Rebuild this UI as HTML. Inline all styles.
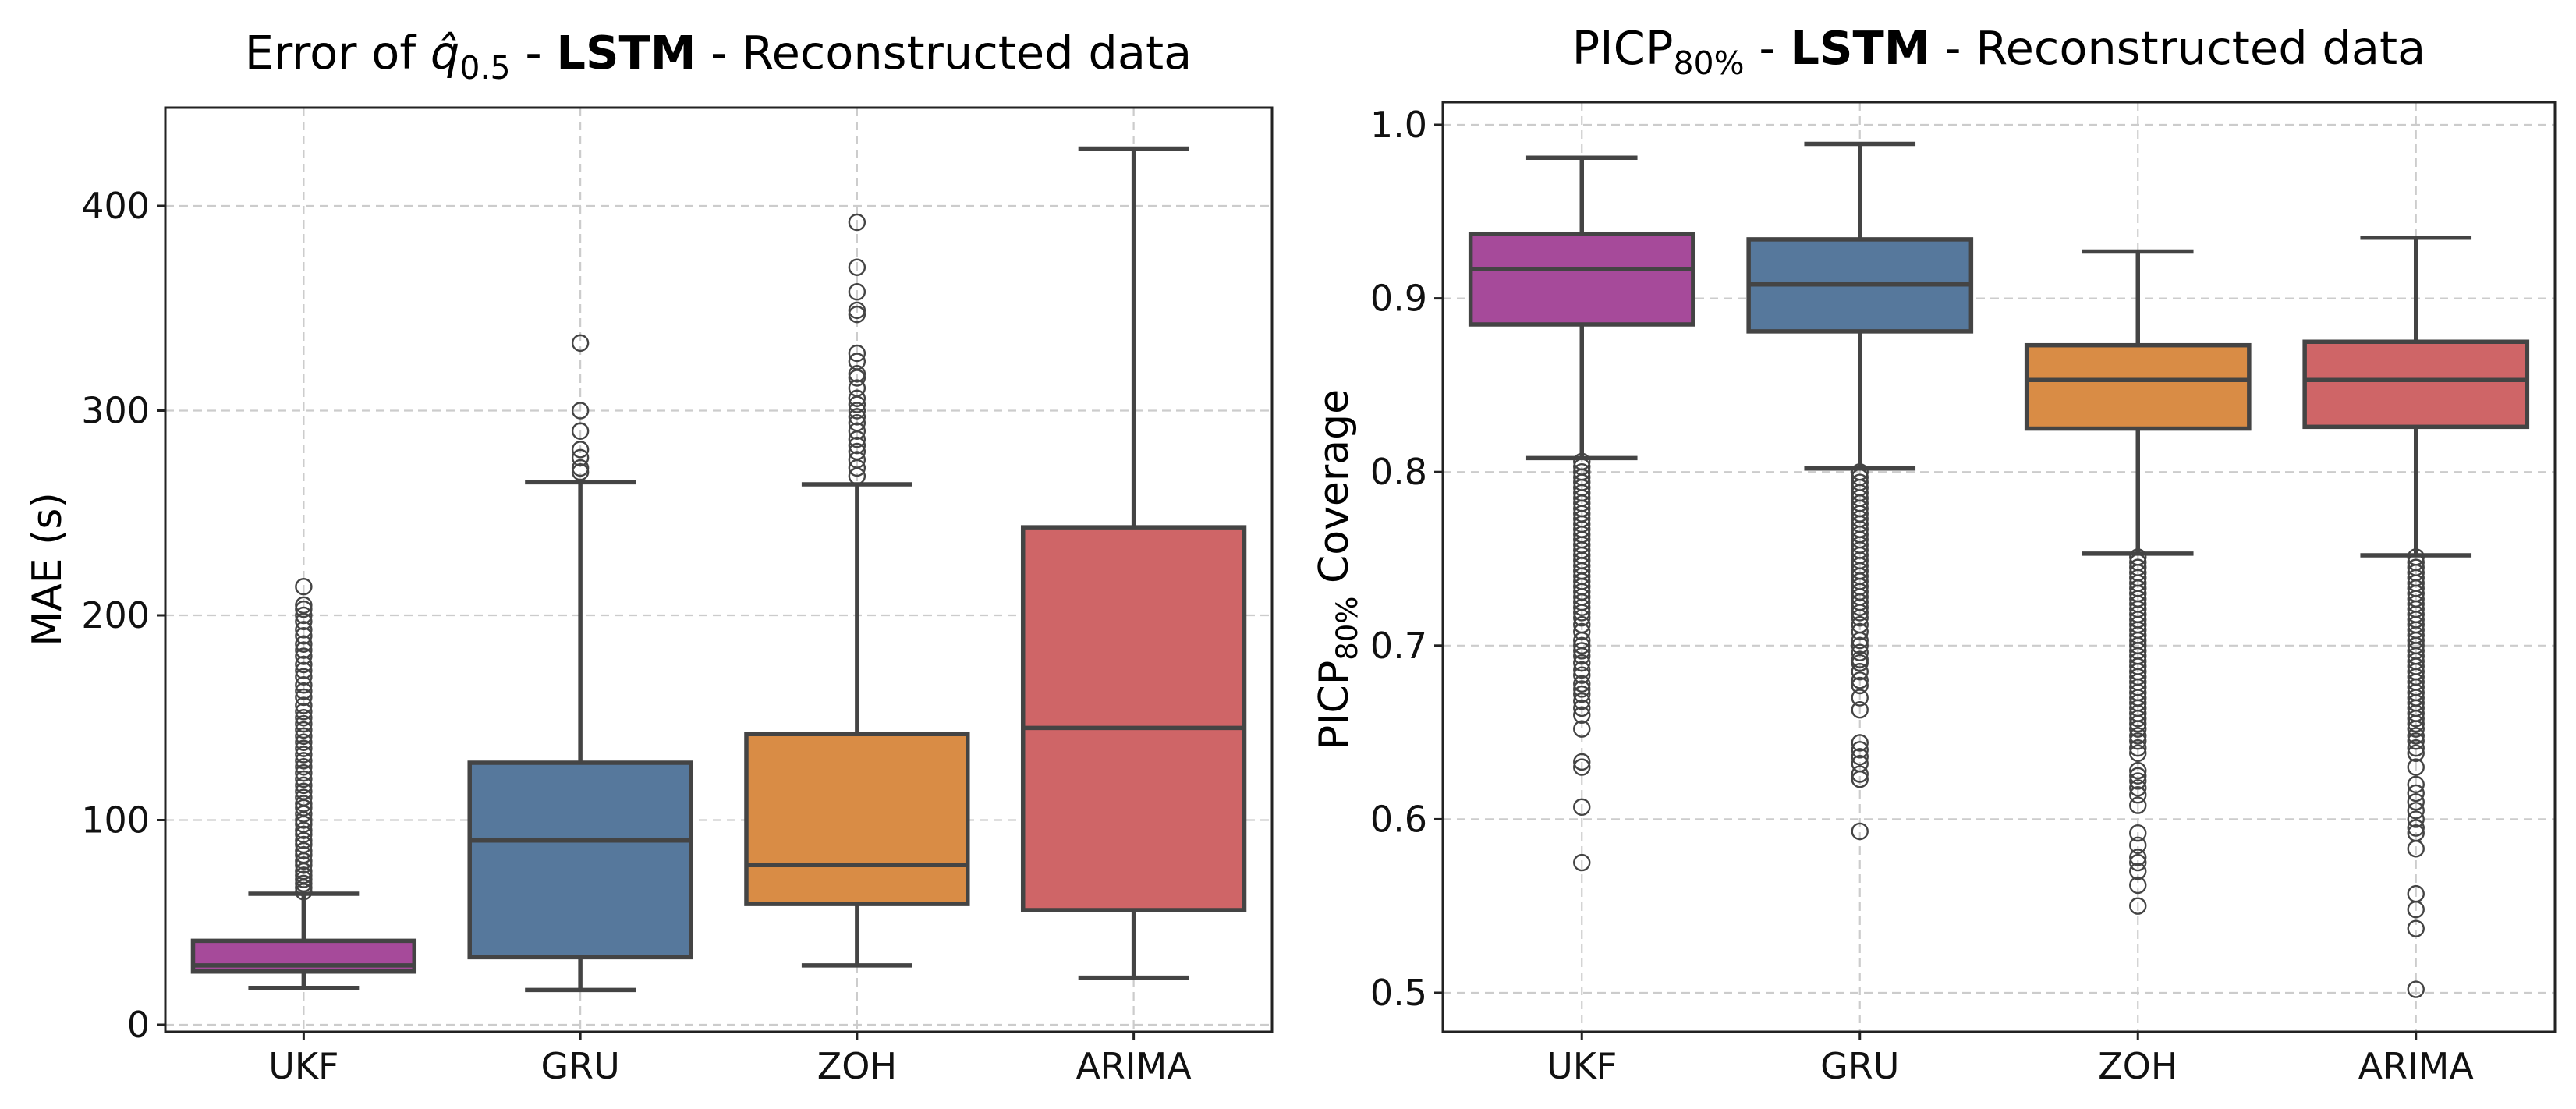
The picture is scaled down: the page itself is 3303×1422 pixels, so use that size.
<!DOCTYPE html>
<html><head><meta charset="utf-8"><style>
html,body{margin:0;padding:0;background:#fff;}
svg{display:block;font-family:"DejaVu Sans","Liberation Sans",sans-serif;}
</style></head><body>
<svg id="fig" width="3303" height="1422" viewBox="0 0 3303 1422" xmlns="http://www.w3.org/2000/svg">
<rect width="3303" height="1422" fill="#fff"/>
<text x="921" y="88" font-size="59" text-anchor="middle" fill="#000">Error of <tspan font-style="italic">q̂</tspan><tspan font-size="41" dy="13">0.5</tspan><tspan dy="-13"> - </tspan><tspan font-weight="bold">LSTM</tspan> - Reconstructed data</text>
<text x="2563" y="82" font-size="59" text-anchor="middle" fill="#000">PICP<tspan font-size="41" dy="13">80%</tspan><tspan dy="-13"> - </tspan><tspan font-weight="bold">LSTM</tspan> - Reconstructed data</text>
<text transform="translate(78,730) rotate(-90)" font-size="52" text-anchor="middle" fill="#000">MAE (s)</text>
<text transform="translate(1728,730) rotate(-90)" font-size="52" text-anchor="middle" fill="#000">PICP<tspan font-size="37" dy="12">80%</tspan><tspan dy="-12"> Coverage</tspan></text>
<g id="left"></g>
<g id="right"></g>
</svg>
<script>
const categories = ["UKF","GRU","ZOH","ARIMA"];
const colors = ["#a64a9a","#56789c","#d98c45","#cf6567"];

// Left chart: MAE (s)
const maeTicks = [0,100,200,300,400];
const maeLow = [18,17,29,23];
const maeQ1 = [26,33,59,56];
const maeMed = [29,90,78,145];
const maeQ3 = [41,128,142,243];
const maeHigh = [64,265,264,428];
const maeOutUKF = [65,67,69,71,73,75,78,80,83,85,88,90,93,95,98,100,103,106,108,111,114,117,120,123,126,129,132,135,138,141,144,147,150,153,156,160,163,166,170,173,176,180,183,186,190,193,197,200,203,205,214];
const maeOutGRU = [270,272,277,281,290,300,333];
const maeOutZOH = [268,272,276,280,283,286,290,294,297,300,303,306,311,316,318,324,328,347,349,358,370,392];
const maeOutARIMA = [];

// Right chart: PICP coverage
const picpTicks = [0.5,0.6,0.7,0.8,0.9,1.0];
const picpLow = [0.808,0.802,0.753,0.752];
const picpQ1 = [0.885,0.881,0.825,0.826];
const picpMed = [0.917,0.908,0.853,0.853];
const picpQ3 = [0.937,0.934,0.873,0.875];
const picpHigh = [0.981,0.989,0.927,0.935];
const picpOutUKF = [0.806,0.803,0.800,0.797,0.794,0.791,0.788,0.785,0.782,0.779,0.776,0.773,0.770,0.767,0.764,0.761,0.758,0.755,0.752,0.749,0.746,0.743,0.740,0.737,0.734,0.731,0.728,0.725,0.722,0.719,0.716,0.712,0.708,0.703,0.700,0.697,0.694,0.690,0.686,0.683,0.678,0.675,0.672,0.668,0.664,0.660,0.652,0.633,0.630,0.607,0.575];
const picpOutGRU = [0.800,0.797,0.794,0.791,0.788,0.785,0.782,0.779,0.776,0.773,0.770,0.767,0.764,0.761,0.758,0.755,0.752,0.749,0.746,0.743,0.740,0.737,0.734,0.731,0.728,0.725,0.722,0.719,0.716,0.712,0.708,0.703,0.700,0.696,0.692,0.690,0.685,0.680,0.677,0.670,0.663,0.644,0.640,0.636,0.632,0.626,0.623,0.593];
const picpOutZOH = [0.751,0.748,0.745,0.742,0.739,0.736,0.733,0.730,0.727,0.724,0.721,0.718,0.715,0.712,0.709,0.706,0.703,0.700,0.697,0.694,0.691,0.688,0.685,0.682,0.679,0.676,0.673,0.670,0.667,0.664,0.661,0.658,0.655,0.652,0.648,0.645,0.641,0.638,0.628,0.625,0.622,0.618,0.614,0.608,0.592,0.585,0.578,0.575,0.570,0.562,0.550];
const picpOutARIMA = [0.751,0.748,0.745,0.742,0.739,0.736,0.733,0.730,0.727,0.724,0.721,0.718,0.715,0.712,0.709,0.706,0.703,0.700,0.697,0.694,0.691,0.688,0.685,0.682,0.679,0.676,0.673,0.670,0.667,0.664,0.661,0.658,0.655,0.652,0.648,0.645,0.641,0.638,0.630,0.620,0.615,0.610,0.605,0.600,0.595,0.592,0.583,0.557,0.548,0.537,0.502];

const NS = "http://www.w3.org/2000/svg";
function mk(parent, tag, attrs){
  const e = document.createElementNS(NS, tag);
  for (const k in attrs) e.setAttribute(k, attrs[k]);
  parent.appendChild(e);
  return e;
}

function drawChart(g, cfg){
  const {x0,x1,y0,y1,vAt0,pxAt0,pxPerUnit,ticks,fmt,low,q1,med,q3,high,outs,prefix} = cfg;
  const yScale = v => pxAt0 - (v - vAt0) * pxPerUnit;
  const band = (x1 - x0) / categories.length;
  const xScale = i => x0 + band * (i + 0.5);
  ticks.forEach(t => {
    const y = yScale(t);
    const gl = mk(g,"line",{x1:x0,x2:x1,y1:y,y2:y,stroke:"#cccccc","stroke-width":2.2,"stroke-dasharray":"11,7"});
    
    
    const tk = mk(g,"line",{x1:x0-11,x2:x0,y1:y,y2:y,stroke:"#222","stroke-width":3});
    
    
    const tl = mk(g,"text",{x:x0-20,y:y+16,"font-size":46,"text-anchor":"end",fill:"#111"});
    tl.textContent = fmt(t);
    
    
  });
  categories.forEach((c,i) => {
    const x = xScale(i);
    const gl = mk(g,"line",{x1:x,x2:x,y1:y0,y2:y1,stroke:"#cccccc","stroke-width":2.2,"stroke-dasharray":"11,7"});
    
    
  });
  categories.forEach((c,i) => {
    const x = xScale(i);
    const bw = band * 0.8;
    const cw = bw * 0.5;
    const grp = mk(g,"g",{});
    
    
    const st = {stroke:"#444","stroke-width":5.5};
    mk(grp,"line",Object.assign({x1:x,x2:x,y1:yScale(high[i]),y2:yScale(q3[i])},st));
    mk(grp,"line",Object.assign({x1:x,x2:x,y1:yScale(q1[i]),y2:yScale(low[i])},st));
    mk(grp,"line",Object.assign({x1:x-cw/2,x2:x+cw/2,y1:yScale(high[i]),y2:yScale(high[i])},st));
    mk(grp,"line",Object.assign({x1:x-cw/2,x2:x+cw/2,y1:yScale(low[i]),y2:yScale(low[i])},st));
    const yt = yScale(q3[i]), yb = yScale(q1[i]);
    mk(grp,"rect",Object.assign({x:x-bw/2,y:yt,width:bw,height:yb-yt,fill:colors[i]},st));
    mk(grp,"line",Object.assign({x1:x-bw/2,x2:x+bw/2,y1:yScale(med[i]),y2:yScale(med[i])},st));
    outs[i].forEach(v => {
      const o = mk(grp,"circle",{cx:x,cy:yScale(v),r:10,fill:"none",stroke:"#444","stroke-width":2.4});
      
      
    });
    const tk = mk(g,"line",{x1:x,x2:x,y1:y1,y2:y1+11,stroke:"#222","stroke-width":3});
    
    
    const tl = mk(g,"text",{x:x,y:y1+60,"font-size":46,"text-anchor":"middle",fill:"#111"});
    tl.textContent = c;
    
    
  });
  const fr = mk(g,"rect",{x:x0,y:y0,width:x1-x0,height:y1-y0,fill:"none",stroke:"#222","stroke-width":3});
  
  
}

const L = document.getElementById("left");


drawChart(L,{x0:212,x1:1631,y0:138,y1:1323,vAt0:0,pxAt0:1314,pxPerUnit:2.625,ticks:maeTicks,fmt:t=>String(t),
  low:maeLow,q1:maeQ1,med:maeMed,q3:maeQ3,high:maeHigh,outs:[maeOutUKF,maeOutGRU,maeOutZOH,maeOutARIMA],prefix:"mae"});

const R = document.getElementById("right");


drawChart(R,{x0:1850,x1:3276,y0:131,y1:1323,vAt0:0.5,pxAt0:1273,pxPerUnit:2226,ticks:picpTicks,fmt:t=>t.toFixed(1),
  low:picpLow,q1:picpQ1,med:picpMed,q3:picpQ3,high:picpHigh,outs:[picpOutUKF,picpOutGRU,picpOutZOH,picpOutARIMA],prefix:"picp"});
</script>
</body></html>
